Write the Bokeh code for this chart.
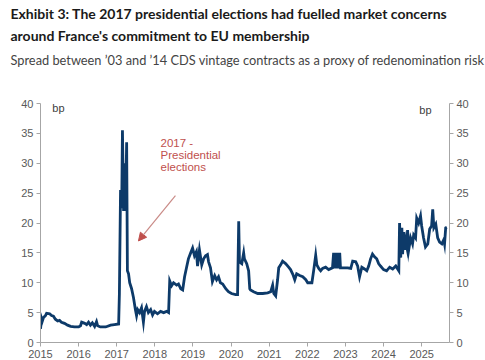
from bokeh.plotting import figure
from bokeh.models import (Range1d, LinearAxis, FixedTicker, PrintfTickFormatter,
                          Title, Label, Arrow, NormalHead)
from bokeh.embed import file_html
from bokeh.resources import INLINE

# ---- data (decimal years, bp) ----
years = [
    2015.00, 2015.03, 2015.05, 2015.08, 2015.13, 2015.16, 2015.24, 2015.29, 2015.34, 2015.39, 2015.45, 2015.50, 2015.55, 2015.63, 2015.71, 2015.79, 2015.89,
    2016.00, 2016.05, 2016.08, 2016.16, 2016.21, 2016.26, 2016.31, 2016.36, 2016.42, 2016.47, 2016.50, 2016.57, 2016.71, 2016.84, 2016.94,
    2017.05, 2017.07, 2017.10, 2017.13, 2017.15, 2017.18, 2017.21, 2017.23, 2017.26, 2017.28, 2017.31, 2017.34, 2017.39, 2017.44, 2017.49, 2017.52, 2017.55, 2017.60, 2017.65, 2017.70, 2017.73, 2017.78, 2017.83, 2017.89, 2017.94, 2017.99,
    2018.07, 2018.15, 2018.23, 2018.31, 2018.36, 2018.39, 2018.44, 2018.49, 2018.57, 2018.62, 2018.68, 2018.73, 2018.78, 2018.83, 2018.88, 2018.94, 2018.99,
    2019.04, 2019.09, 2019.12, 2019.17, 2019.23, 2019.28, 2019.33, 2019.38, 2019.41, 2019.46, 2019.51, 2019.57, 2019.62, 2019.67, 2019.72, 2019.78, 2019.86, 2019.93,
    2020.01, 2020.12, 2020.17, 2020.20, 2020.22, 2020.28, 2020.33, 2020.35, 2020.41, 2020.46, 2020.49, 2020.51, 2020.59, 2020.70, 2020.83, 2020.96,
    2021.04, 2021.09, 2021.12, 2021.17, 2021.22, 2021.25, 2021.30, 2021.35, 2021.43, 2021.51, 2021.56, 2021.62, 2021.67, 2021.72, 2021.80, 2021.88, 2021.96,
    2022.01, 2022.12, 2022.17, 2022.22, 2022.25, 2022.30, 2022.35, 2022.40, 2022.48, 2022.56, 2022.66, 2022.69, 2022.72, 2022.74, 2022.77, 2022.80, 2022.82, 2022.85, 2022.87, 2022.95,
    2023.06, 2023.14, 2023.19, 2023.27, 2023.32, 2023.37, 2023.43, 2023.50, 2023.56, 2023.61, 2023.66, 2023.71, 2023.77, 2023.82, 2023.87, 2023.92,
    2024.00, 2024.08, 2024.16, 2024.24, 2024.32, 2024.40, 2024.42, 2024.45, 2024.48, 2024.50, 2024.53, 2024.56, 2024.58, 2024.61, 2024.63, 2024.66, 2024.71, 2024.76, 2024.79, 2024.84, 2024.87, 2024.92, 2024.97,
    2025.00, 2025.05, 2025.10, 2025.16, 2025.21, 2025.26, 2025.29, 2025.32, 2025.37, 2025.42, 2025.47, 2025.53, 2025.58, 2025.60, 2025.63, 2025.66,
]
spread_bp = [
    2.3, 4.0, 3.6, 4.2, 4.5, 4.9, 4.8, 4.5, 4.4, 3.9, 3.6, 3.7, 3.4, 3.2, 2.9, 2.7, 2.6,
    2.6, 2.8, 3.4, 3.2, 3.0, 3.4, 2.9, 3.3, 2.7, 3.5, 2.8, 2.6, 2.6, 2.9, 3.0,
    3.1, 8.2, 25.5, 22.5, 35.5, 22.0, 30.0, 22.0, 33.5, 12.0, 11.5, 10.0, 9.0, 7.5, 5.5, 4.5, 5.5, 5.0, 5.8, 3.4, 5.2, 6.0, 5.0, 5.5, 4.6, 5.2,
    4.8, 5.2, 5.0, 5.2, 5.0, 10.3, 9.5, 10.0, 9.6, 9.8, 9.0, 8.8, 11.0, 12.5, 14.0, 15.0, 15.8,
    14.5, 15.2, 12.8, 15.5, 13.0, 14.0, 14.5, 14.7, 13.5, 12.5, 10.2, 11.2, 10.5, 11.0, 10.0, 9.8, 9.0, 8.5,
    8.2, 8.0, 8.0, 20.3, 13.5, 13.2, 15.0, 14.0, 13.2, 12.0, 9.0, 8.8, 8.5, 8.2, 8.2, 8.3,
    8.5, 9.6, 8.2, 7.8, 10.5, 12.5, 13.0, 13.6, 13.2, 12.6, 12.2, 11.4, 10.5, 11.5, 11.2, 11.0, 10.5,
    10.0, 10.0, 12.2, 14.6, 13.0, 12.4, 12.0, 12.4, 12.6, 12.2, 12.5, 15.0, 12.4, 15.0, 12.4, 15.0, 12.4, 15.0, 12.5, 12.5,
    12.5, 12.4, 13.6, 13.5, 12.8, 11.0, 12.6, 12.3, 12.0, 12.8, 14.0, 14.8, 14.3, 14.0, 13.2, 12.8,
    12.2, 12.0, 12.6, 12.3, 12.8, 12.0, 20.0, 14.2, 19.2, 14.8, 18.5, 15.5, 17.0, 16.0, 18.8, 15.5, 17.5, 16.5, 18.0, 17.5, 20.8, 20.0, 21.2,
    19.5, 17.5, 16.0, 16.5, 19.0, 19.5, 22.3, 19.2, 19.8, 17.5, 16.8, 16.5, 17.2, 16.5, 19.2, 19.3,
]
year_ticks = [2015, 2016, 2017, 2018, 2019, 2020, 2021, 2022, 2023, 2024, 2025]
bp_ticks = [0, 5, 10, 15, 20, 25, 30, 35, 40]
title_lines = ["Exhibit 3: The 2017 presidential elections had fuelled market concerns",
               "around France's commitment to EU membership"]
subtitle = "Spread between \u201903 and \u201914 CDS vintage contracts as a proxy of redenomination risk"
annot_lines = ["2017 -", "Presidential", "elections"]
annot_x = 2018.15
annot_y = [33.4, 31.3, 29.3]

assert len(years) == len(spread_bp)

NAVY = "#0d3a69"
AXIS = "#a6a6a6"
TICK_TXT = "#595959"
RED = "#c0504d"
TFONT = "Lato"
AFONT = "Liberation Sans"

p = figure(width=485, height=360, output_backend="svg", toolbar_location=None,
           x_range=Range1d(2015.0, 2025.73), y_range=Range1d(0, 40),
           min_border_left=40, min_border_right=36, min_border_top=0, min_border_bottom=0,
           y_axis_location=None, x_axis_location=None)
p.outline_line_color = None
p.xgrid.grid_line_color = None
p.ygrid.grid_line_color = None
p.background_fill_color = "white"
p.border_fill_color = "white"

def style_axis(ax):
    ax.axis_line_color = AXIS
    ax.major_tick_line_color = AXIS
    ax.minor_tick_line_color = None
    ax.major_tick_in = 0
    ax.major_tick_out = 4
    ax.major_label_text_font = AFONT
    ax.major_label_text_font_size = "11px"
    ax.major_label_text_color = TICK_TXT
    ax.major_label_standoff = 3

xa = LinearAxis(ticker=FixedTicker(ticks=year_ticks), formatter=PrintfTickFormatter(format="%d"))
style_axis(xa)
p.add_layout(xa, "below")
ya = LinearAxis(ticker=FixedTicker(ticks=bp_ticks))
style_axis(ya)
p.add_layout(ya, "left")
ya2 = LinearAxis(ticker=FixedTicker(ticks=bp_ticks))
style_axis(ya2)
p.add_layout(ya2, "right")

# titles (added from the plot outward); first an empty spacer
p.add_layout(Title(text=" ", text_font_size="1px", standoff=28), "above")
p.add_layout(Title(text=subtitle, text_font=TFONT, text_font_size="12.8px", text_font_style="normal",
                   text_color="#444444", align="left", offset=-30, standoff=9), "above")
p.add_layout(Title(text=title_lines[1], text_font=TFONT, text_font_size="14px", text_font_style="bold",
                   text_color="#1a1a1a", align="left", offset=-30, standoff=3), "above")
p.add_layout(Title(text=title_lines[0], text_font=TFONT, text_font_size="14px", text_font_style="bold",
                   text_color="#1a1a1a", align="left", offset=-30, standoff=4), "above")

p.line(years, spread_bp, line_color=NAVY, line_width=2.8, line_join="miter")

p.add_layout(Label(x=2015.47, y=39.2, text="bp", text_font=AFONT, text_font_size="11px",
                   text_color="#404040", text_align="center", text_baseline="middle"))
p.add_layout(Label(x=2025.1, y=38.9, text="bp", text_font=AFONT, text_font_size="11px",
                   text_color="#404040", text_align="center", text_baseline="middle"))

for t, yy in zip(annot_lines, annot_y):
    p.add_layout(Label(x=annot_x, y=yy, text=t, text_font=AFONT, text_font_size="11.5px",
                       text_color=RED, text_align="left", text_baseline="middle"))

p.add_layout(Arrow(x_start=2018.54, y_start=24.6, x_end=2017.57, y_end=17.0,
                   line_color="#c98a86", line_width=1.2,
                   end=NormalHead(size=8, fill_color="#c0504d", line_color="#c0504d")))

open("out.html", "w").write(file_html(p, INLINE))
